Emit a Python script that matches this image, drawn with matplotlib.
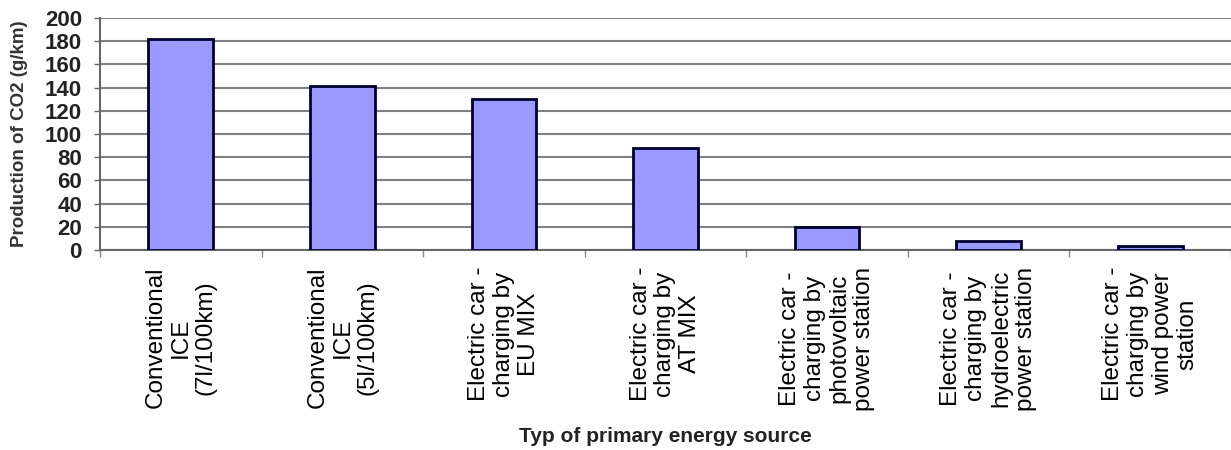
import matplotlib
matplotlib.use("Agg")
import matplotlib.pyplot as plt
import numpy as np

categories = [
    "Conventional\nICE\n(7l/100km)",
    "Conventional\nICE\n(5l/100km)",
    "Electric car -\ncharging by\nEU MIX",
    "Electric car -\ncharging by\nAT MIX",
    "Electric car -\ncharging by\nphotovoltaic\npower station",
    "Electric car -\ncharging by\nhydroelectric\npower station",
    "Electric car -\ncharging by\nwind power\nstation",
]
co2_g_per_km = [182, 141, 130, 88, 20, 8, 3.5]
y_ticks = [0, 20, 40, 60, 80, 100, 120, 140, 160, 180, 200]

plt.rcParams["font.family"] = ["Liberation Sans", "DejaVu Sans"]

fig = plt.figure(figsize=(12.31, 4.5), dpi=100)
ax = fig.add_axes([100 / 1231, 1 - 250 / 450, 1131 / 1231, 232 / 450])

x = np.arange(len(categories))
ax.bar(x, co2_g_per_km, width=0.4, color="#9999ff", edgecolor="#000030",
       linewidth=2, zorder=3)

ax.set_xlim(-0.5, len(categories) - 0.5)
ax.set_ylim(0, 200)
ax.set_yticks(y_ticks)
ax.set_yticklabels([str(v) for v in y_ticks], fontsize=16, fontweight="bold",
                   color="#222222")
ax.yaxis.grid(True, color="#808080", linewidth=1.5, zorder=0)

ax.set_xticks(x)
ax.set_xticklabels(categories, rotation=90, fontsize=17.5, fontweight="medium",
                   ha="center", va="top", multialignment="center",
                   color="#000000", linespacing=1.17)
ax.set_xticks(np.arange(len(categories) + 1) - 0.5, minor=True)
ax.tick_params(axis="x", which="major", length=0, pad=12)
ax.tick_params(axis="x", which="minor", length=5, width=1, color="#888888")
ax.tick_params(axis="y", length=4, width=1, color="#666666", pad=9)

for side in ("top", "right"):
    ax.spines[side].set_visible(False)
ax.spines["left"].set_color("#666666")
ax.spines["left"].set_linewidth(1.5)
ax.spines["bottom"].set_color("#666666")
ax.spines["bottom"].set_linewidth(1.5)

ax.set_ylabel("Production of CO2 (g/km)", fontsize=13.5, fontweight="bold",
              color="#333333", va="center")
ax.yaxis.set_label_coords(-0.0716, 0.5)
ax.set_xlabel("Typ of primary energy source", fontsize=15, fontweight="bold",
              color="#222222", va="center")
ax.xaxis.set_label_coords(0.5, -0.806)

fig.savefig("out.png", dpi=100, facecolor="white")
